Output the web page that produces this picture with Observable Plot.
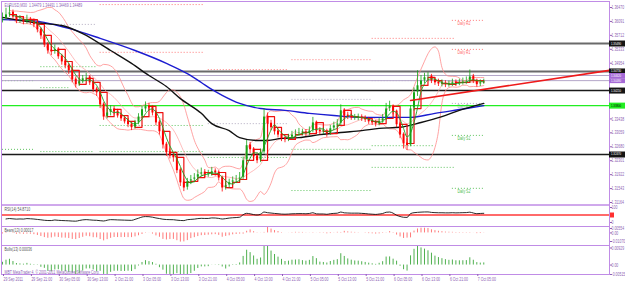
<!DOCTYPE html>
<html><head><meta charset="utf-8">
<script src="https://cdn.jsdelivr.net/npm/d3@7"></script>
<script src="https://cdn.jsdelivr.net/npm/@observablehq/plot@0.6"></script>
<style>
body{margin:0;background:#fff;}
#c{position:relative;width:625px;height:282px;overflow:hidden;background:#fff;}
#c svg{position:absolute;left:0;top:0;}
</style></head><body><div id="c"></div>
<script>
// ---------- DATA (hourly bars, EURUSD) ----------
const firstOpen = 1.3612;
const closes = [1.3617,1.3628,1.3633,1.3622,1.3612,1.3614,1.3609,1.3614,1.3609,1.3601,
1.3587,1.3571,1.3546,1.3530,1.3527,1.3533,1.3514,1.3500,1.3489,1.3476,
1.3451,1.3438,1.3446,1.3454,1.3457,1.3443,1.3424,1.3416,1.3383,1.3350,
1.3361,1.3370,1.3364,1.3353,1.3345,1.3337,1.3329,1.3321,1.3334,1.3350,
1.3370,1.3378,1.3375,1.3361,1.3334,1.3310,1.3274,1.3253,1.3244,1.3239,
1.3204,1.3171,1.3157,1.3174,1.3179,1.3184,1.3193,1.3198,1.3193,1.3193,
1.3201,1.3198,1.3184,1.3157,1.3163,1.3171,1.3176,1.3179,1.3184,1.3231,
1.3272,1.3261,1.3242,1.3231,1.3253,1.3350,1.3331,1.3321,1.3310,1.3301,
1.3291,1.3288,1.3293,1.3301,1.3304,1.3307,1.3307,1.3304,1.3312,1.3334,
1.3312,1.3310,1.3310,1.3304,1.3318,1.3326,1.3331,1.3367,1.3353,1.3350,
1.3348,1.3348,1.3348,1.3345,1.3342,1.3337,1.3334,1.3331,1.3337,1.3345,
1.3372,1.3378,1.3364,1.3329,1.3301,1.3277,1.3272,1.3372,1.3416,1.3435,
1.3448,1.3457,1.3459,1.3448,1.3443,1.3440,1.3440,1.3438,1.3438,1.3443,
1.3440,1.3443,1.3446,1.3448,1.3459,1.3448,1.3438,1.3443,1.3446];
const highs = [1.3632,1.3645,1.3652,1.3640,1.3628,1.3625,1.3622,1.3626,1.3620,1.3616,
1.3608,1.3592,1.3578,1.3552,1.3541,1.3545,1.3538,1.3520,1.3508,1.3495,
1.3480,1.3458,1.3455,1.3462,1.3468,1.3462,1.3448,1.3430,1.3420,1.3388,
1.3372,1.3380,1.3378,1.3370,1.3360,1.3352,1.3345,1.3335,1.3340,1.3358,
1.3378,1.3390,1.3386,1.3380,1.3366,1.3340,1.3315,1.3280,1.3262,1.3252,
1.3245,1.3210,1.3180,1.3182,1.3190,1.3195,1.3205,1.3210,1.3206,1.3204,
1.3212,1.3208,1.3203,1.3188,1.3172,1.3180,1.3186,1.3190,1.3198,1.3240,
1.3285,1.3280,1.3266,1.3250,1.3262,1.3372,1.3360,1.3340,1.3328,1.3318,
1.3308,1.3298,1.3302,1.3310,1.3314,1.3318,1.3316,1.3315,1.3322,1.3348,
1.3338,1.3320,1.3319,1.3316,1.3326,1.3335,1.3342,1.3382,1.3372,1.3362,
1.3358,1.3356,1.3357,1.3355,1.3352,1.3348,1.3344,1.3340,1.3346,1.3356,
1.3386,1.3392,1.3382,1.3368,1.3334,1.3306,1.3290,1.3380,1.3428,1.3475,
1.3462,1.3468,1.3470,1.3465,1.3455,1.3452,1.3450,1.3448,1.3447,1.3452,
1.3450,1.3452,1.3455,1.3458,1.3477,1.3465,1.3452,1.3450,1.3452];
const lows = [1.3605,1.3612,1.3620,1.3615,1.3603,1.3604,1.3600,1.3602,1.3600,1.3592,
1.3578,1.3560,1.3538,1.3520,1.3516,1.3520,1.3506,1.3490,1.3480,1.3465,
1.3442,1.3428,1.3432,1.3440,1.3448,1.3435,1.3415,1.3405,1.3372,1.3340,
1.3344,1.3352,1.3355,1.3346,1.3337,1.3330,1.3320,1.3312,1.3316,1.3328,
1.3345,1.3362,1.3366,1.3352,1.3325,1.3300,1.3262,1.3242,1.3235,1.3226,
1.3195,1.3160,1.3146,1.3150,1.3165,1.3170,1.3178,1.3186,1.3184,1.3185,
1.3188,1.3188,1.3175,1.3145,1.3150,1.3155,1.3165,1.3168,1.3172,1.3178,
1.3225,1.3250,1.3232,1.3222,1.3225,1.3248,1.3322,1.3312,1.3300,1.3292,
1.3282,1.3279,1.3282,1.3288,1.3294,1.3296,1.3298,1.3296,1.3298,1.3306,
1.3302,1.3300,1.3301,1.3294,1.3299,1.3312,1.3320,1.3326,1.3345,1.3342,
1.3340,1.3340,1.3339,1.3337,1.3334,1.3329,1.3326,1.3322,1.3325,1.3332,
1.3340,1.3364,1.3355,1.3320,1.3290,1.3262,1.3258,1.3268,1.3365,1.3405,
1.3428,1.3440,1.3448,1.3440,1.3435,1.3432,1.3431,1.3429,1.3430,1.3432,
1.3432,1.3434,1.3436,1.3438,1.3442,1.3440,1.3430,1.3432,1.3438];

// slow moving averages read at sample bars
const blackMaBars = [0,9,17,23,31,37,42,47,51,57,60,65,68,73,76,80,85,91,97,103,108,114,120,126,131,138];
const blackMaVals = [1.3620,1.3606,1.3598,1.3576,1.3530,1.3495,1.3462,1.3432,1.3399,1.3359,1.3331,1.3312,1.3293,1.3285,1.3285,1.3291,1.3293,1.3301,1.3307,1.3312,1.3318,1.3321,1.3334,1.3350,1.3367,1.3386];
const blueMaBars = [0,8,19,28,38,47,53,57,60,63,68,74,81,88,95,103,110,117,124,133,138];
const blueMaVals = [1.3614,1.3612,1.3590,1.3563,1.3530,1.3495,1.3467,1.3443,1.3424,1.3408,1.3386,1.3372,1.3367,1.3359,1.3353,1.3348,1.3348,1.3348,1.3359,1.3372,1.3380];

// trend line (bar, price) ends
const trendBars = [117, 174];
const trendVals = [1.3394, 1.3476];

// horizontal levels
const strongLevels = [1.3549, 1.3473];
const blackLevels = [1.3421, 1.3247];
const quoteLevels = [1.3462, 1.3448];
const greenLevels = [1.3380];

// daily pivot segments: start bar, end bar, price, kind
const pivotStart = [0,11,16,11,11,0,28,28,28,28,59,59,59,83,83,83,83,106,106,106,106,106,129,129,129,129,129];
const pivotEnd   = [9,27,27,19,26,9,58,58,58,58,82,82,82,106,106,106,106,130,119,117,124,130,138,138,138,138,138];
const pivotPrice = [1.3448,1.3486,1.3601,1.3429,1.3255,1.3261,1.3655,1.3525,1.3326,1.3255,1.3478,1.3331,1.3239,1.3505,1.3397,1.3261,1.3149,1.3563,1.3448,1.3380,1.3271,1.3212,1.3612,1.3533,1.3386,1.3299,1.3155];
const pivotKind  = ["S","S","P","S","S","S","R","R","S","S","R","P","S","R","P","S","S","R","P","P","S","S","R","R","P","S","S"];
const pivotText  = ["","","","","","","","","","","","","","","","","","","","","","","Daily R2","Daily R1","Daily Pivot","Daily S1","Daily S2"];

// axes (ticks hidden behind the level boxes are left out)
const priceTicks = [1.36470,1.36091,1.35712,1.35333,1.34954,1.33438,1.33059,1.32680,1.32301,1.31922,1.31543,1.31164];
const timeBars = [0,8,16,24,32,40,48,56,64,72,80,88,96,104,112,120,128,136];
const timeLabels = ["29 Sep 2011","29 Sep 21:00","30 Sep 05:00","30 Sep 13:00","2 Oct 21:00","3 Oct 05:00","3 Oct 13:00","3 Oct 21:00","4 Oct 05:00","4 Oct 13:00","4 Oct 21:00","5 Oct 05:00","5 Oct 13:00","5 Oct 21:00","6 Oct 05:00","6 Oct 13:00","6 Oct 21:00","7 Oct 05:00"];
const titleText = "EURUSD,M30  1.34479 1.34491 1.34469 1.34489";
const rsiTicks = [100, 0];
const bearsTicks = [0.00554, 0, -0.01070];
const bullsTicks = [0.00929, 0, -0.00515];
const rsiLevel = [50];

// ---------- derived tables ----------
const bars = closes.map((c,i)=>({h:i, o: i ? closes[i-1] : firstOpen, c, hi: highs[i], lo: lows[i]}));
const blackMa = blackMaBars.map((h,i)=>({h, v: blackMaVals[i]}));
const blueMa = blueMaBars.map((h,i)=>({h, v: blueMaVals[i]}));
const trend = trendBars.map((h,i)=>({h, v: trendVals[i]}));
const pivots = pivotStart.map((a,i)=>({a, b: pivotEnd[i], p: pivotPrice[i], k: pivotKind[i], t: pivotText[i]}));

// indicators computed from the bars
const bb = [];
for (let i=2;i<closes.length;i++){const w=closes.slice(Math.max(0,i-9),i+1);const m=d3.mean(w);const s=Math.sqrt(d3.mean(w,v=>(v-m)**2));bb.push({h:i,m,u:m+2*s,l:m-2*s});}
const fast = [];
for (let i=3;i<closes.length;i++) fast.push({h:i, v:d3.mean(closes.slice(i-3,i+1))});
const step = [];
for (let k=1;2*k<closes.length;k++) step.push({h:2*k, v:closes[2*k-1]});
step.push({h:closes.length-1, v:step[step.length-1].v});
const diffs = closes.slice(1).map((c,i)=>c-closes[i]);
let ag=d3.mean(diffs.slice(0,14),d=>Math.max(d,0)), al=d3.mean(diffs.slice(0,14),d=>Math.max(-d,0));
const rsi=[];
diffs.forEach((d,i)=>{ag=(ag*13+Math.max(d,0))/14;al=(al*13+Math.max(-d,0))/14;rsi.push({h:i+1,v:100-100/(1+ag/al)});});
const ema=[closes[0]];
for (let i=1;i<closes.length;i++) ema.push(ema[i-1]+(2/14)*(closes[i]-ema[i-1]));
const bulls = highs.map((v,i)=>({h:i, v:v-ema[i]}));
const bears = lows.map((v,i)=>({h:i, v:v-ema[i]}));

// ---------- drawing ----------
const W=625, H=282, AX=609;
const xDom=[-0.5735,174.05];
const pxH = AX/(xDom[1]-xDom[0]);
const xBoxEnd = xDom[1] + 16/pxH;
const PUR="#c08ce6", TXT="#8e5fb5", RED="#ff0000", GRN="#17a317", FS=5, BFS=4;
const pivColor = k => k==="R" ? "#ff6a6a" : k==="S" ? "#4cbc4c" : "#aaa2ba";

function panel(top, bottom, yDom, yRange, marks){
  return Plot.plot({
    width:W, height:H, marginLeft:1, marginRight:W-AX, marginTop:top, marginBottom:H-bottom,
    style:{background:"transparent", fontFamily:"'Liberation Sans', Arial, sans-serif", fontSize:FS+"px", overflow:"visible"},
    x:{domain:xDom, range:[0,AX], axis:null},
    y:{domain:yDom, range:yRange, axis:null},
    marks
  });
}
const fmt5 = d => d===0 ? "0.00" : d.toFixed(5);
const yAxis = (ticks, fmt) => Plot.axisY(ticks, {anchor:"right", tickSize:2, tickPadding:0, tickFormat:fmt, color:TXT, fontSize:FS, label:null});

const main = panel(1, 204.5, [1.31164,1.36470], [202,7], [
  Plot.ruleY(pivots, {y:"p", x1:"a", x2:"b", stroke:d=>pivColor(d.k), strokeWidth:0.9, strokeDasharray:"1,2"}),
  Plot.text(pivots.filter(d=>d.t), {x:"a", y:"p", text:"t", fill:d=>pivColor(d.k), textAnchor:"start", lineAnchor:"top", dx:5, dy:1.2, fontSize:FS}),
  Plot.ruleY(strongLevels, {stroke:"#6a6a6a", strokeWidth:2}),
  Plot.ruleY(quoteLevels, {stroke:"#b4a6c8", strokeWidth:1}),
  Plot.ruleY(blackLevels, {stroke:"#1a1a1a", strokeWidth:1.5}),
  Plot.ruleY(greenLevels, {stroke:"#22ee22", strokeWidth:1.3}),
  Plot.line(bb, {x:"h", y:"u", stroke:"#ff8c8c", strokeWidth:0.8, curve:"monotone-x", clip:"frame"}),
  Plot.line(bb, {x:"h", y:"l", stroke:"#ff8c8c", strokeWidth:0.8, curve:"monotone-x", clip:"frame"}),
  Plot.line(bb, {x:"h", y:"m", stroke:"#ffa0a0", strokeWidth:0.7, curve:"monotone-x", clip:"frame"}),
  Plot.line(blueMa, {x:"h", y:"v", stroke:"#1c1cd0", strokeWidth:1.4, curve:"monotone-x"}),
  Plot.line(blackMa, {x:"h", y:"v", stroke:"#111", strokeWidth:1.4, curve:"monotone-x"}),
  Plot.line(step, {x:"h", y:"v", stroke:"#ee1010", strokeWidth:1.2, curve:"step-after"}),
  Plot.ruleX(bars, {x:"h", y1:"lo", y2:"hi", stroke:d=>d.c>=d.o?GRN:RED, strokeWidth:0.8}),
  Plot.ruleX(bars, {x:"h", y1:"o", y2:"c", stroke:d=>d.c>=d.o?GRN:RED, strokeWidth:2, insetTop:-0.4, insetBottom:-0.4}),
  Plot.line(fast, {x:"h", y:"v", stroke:"#1f9d1f", strokeWidth:0.9, curve:"monotone-x"}),
  Plot.line(trend, {x:"h", y:"v", stroke:"#ee1a1a", strokeWidth:1.6}),
  Plot.frame({stroke:PUR, strokeWidth:1}),
  yAxis(priceTicks, fmt5),
  Plot.ruleY([...strongLevels, ...blackLevels], {y:d=>d, x1:xDom[1], x2:xBoxEnd, stroke:"#151515", strokeWidth:6}),
  Plot.ruleY(quoteLevels, {y:d=>d, x1:xDom[1], x2:xBoxEnd, stroke:"#a56ad6", strokeWidth:5}),
  Plot.ruleY(greenLevels, {y:d=>d, x1:xDom[1], x2:xBoxEnd, stroke:"#22ee22", strokeWidth:6}),
  Plot.text([...strongLevels, ...blackLevels], {x:xDom[1], y:d=>d, text:d=>d.toFixed(5), fill:"#fff", textAnchor:"start", dx:1.5, dy:-0.3, fontSize:BFS}),
  Plot.text(quoteLevels, {x:xDom[1], y:d=>d, text:d=>d.toFixed(5), fill:"#fff", textAnchor:"start", dx:1.5, dy:0.5, fontSize:BFS}),
  Plot.text(greenLevels, {x:xDom[1], y:d=>d, text:d=>d.toFixed(5), fill:"#000", textAnchor:"start", dx:1.5, fontSize:BFS}),
  Plot.text([titleText], {frameAnchor:"top-left", dx:3, dy:2, fill:TXT, fontSize:FS})
]);

const rsiPanel = panel(204.5, 226, [0,100], [222,207], [
  Plot.ruleY(rsiLevel, {stroke:"#ff6a6a", strokeWidth:2}),
  Plot.line(rsi, {x:"h", y:"v", stroke:"#111", strokeWidth:0.9, curve:"monotone-x", clip:"frame"}),
  Plot.frame({stroke:PUR}),
  yAxis(rsiTicks, d=>String(d)),
  Plot.ruleY(rsiLevel, {y:d=>d, x1:xDom[1]+1/pxH, x2:xDom[1]+5/pxH, stroke:"#ff3030", strokeWidth:5}),
  Plot.text(["RSI(14) 54.8710"], {frameAnchor:"top-left", dx:3, dy:2, fill:"#555", fontSize:FS})
]);

const bearsPanel = panel(226, 245, [-0.01070,0.00554], [241,228], [
  Plot.ruleX(bears, {x:"h", y1:0, y2:"v", stroke:"#ff7a7a", strokeWidth:1, clip:"frame"}),
  Plot.frame({stroke:PUR}),
  yAxis(bearsTicks, fmt5),
  Plot.text(["Bears(13) 0.00017"], {frameAnchor:"top-left", dx:3, dy:2, fill:"#555", fontSize:FS})
]);

const bullsPanel = panel(245, 274, [-0.00515,0.00929], [274,247.5], [
  Plot.ruleX(bulls, {x:"h", y1:0, y2:"v", stroke:"#4fb04f", strokeWidth:1, clip:"frame"}),
  Plot.frame({stroke:PUR}),
  yAxis(bullsTicks, fmt5),
  Plot.axisX(timeBars, {anchor:"bottom", tickSize:2, tickPadding:0.5, textAnchor:"start", dx:1, tickFormat:(d,i)=>timeLabels[i], color:TXT, fontSize:FS, label:null}),
  Plot.text(["Bulls(13) 0.00036"], {frameAnchor:"top-left", dx:3, dy:2, fill:"#555", fontSize:FS}),
  Plot.text(["MBT MetaTrader 4, \u00a9 2001-2011 MetaQuotes Software Corp."], {frameAnchor:"bottom-left", dx:3, dy:-1, fill:TXT, fontSize:FS})
]);

const c = document.getElementById("c");
[main, rsiPanel, bearsPanel, bullsPanel].forEach(s=>c.appendChild(s));
// narrow the glyphs horizontally around each text's anchor (the reference uses a tight screen font)
const SX = 0.7;
for (const t of [...c.querySelectorAll("text")]) {
  const r = t.getBoundingClientRect();
  if (!r.width) continue;
  const a = getComputedStyle(t).textAnchor;
  const sx = a === "end" ? r.right : a === "middle" ? (r.left + r.right) / 2 : r.left;
  const m = t.parentNode.getScreenCTM();
  const px = (sx - m.e) / m.a;
  const g = document.createElementNS("http://www.w3.org/2000/svg", "g");
  g.setAttribute("transform", `translate(${px.toFixed(2)},0) scale(${SX},1) translate(${(-px).toFixed(2)},0)`);
  t.parentNode.insertBefore(g, t);
  g.appendChild(t);
}
</script></body></html>
